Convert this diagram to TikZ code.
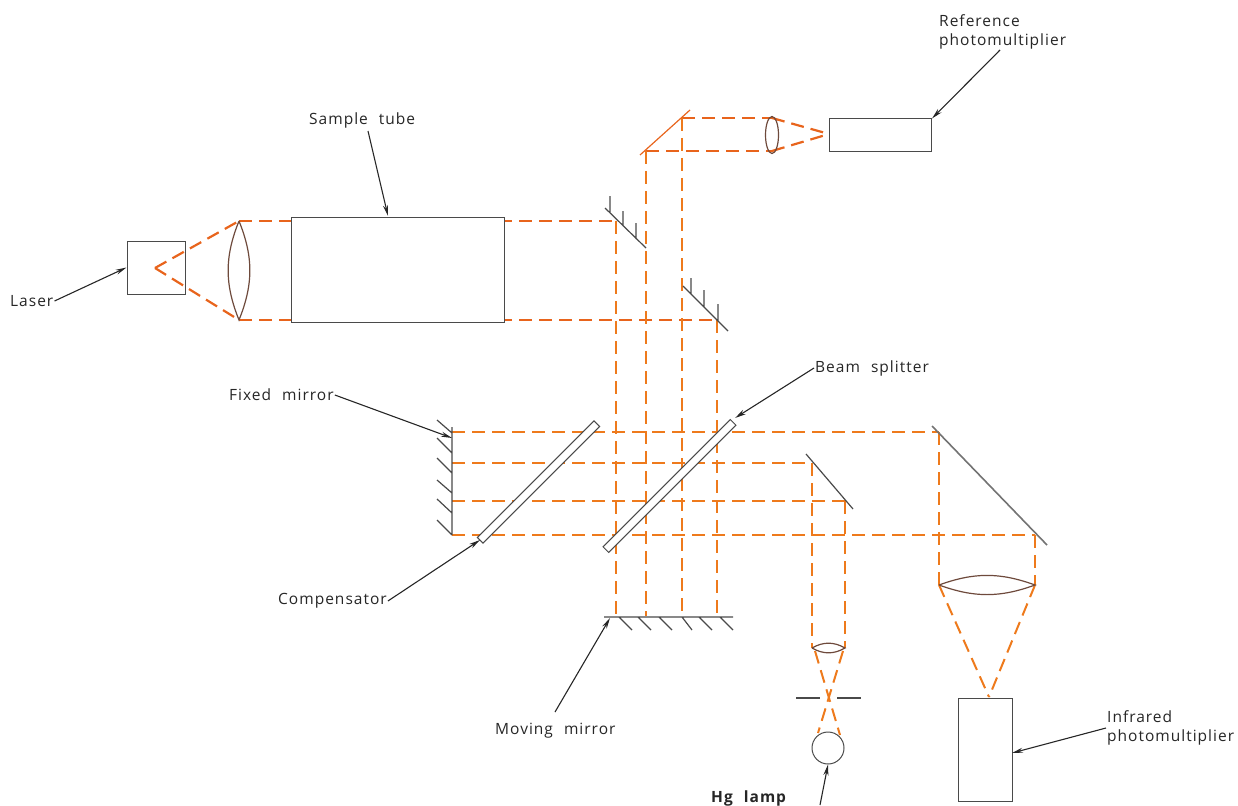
\documentclass[tikz,border=0pt]{standalone}
\usepackage{fontspec}
\setmainfont{Open Sans}[LetterSpace=6.5,WordSpace=2.2]
\usepackage{tikz}
\usetikzlibrary{arrows.meta,positioning,shapes.geometric}
\definecolor{Beam}{HTML}{EE7A1C}
\definecolor{LaserBeam}{HTML}{E8641C}
\definecolor{Ink}{HTML}{4A4A4A}
\definecolor{Glass}{HTML}{6E4A3C}
\tikzset{
  beam/.style={draw=Beam, line width=2pt, dash pattern=on 13pt off 7pt},
  laserbeam/.style={beam, draw=LaserBeam, line width=2.2pt},
  instr/.style={draw=Ink, line width=1pt, fill=white, inner sep=0pt},
  mirror/.style={draw=Ink, line width=1.2pt},
  plate/.style={instr, fill=white, minimum height=8pt, rotate=45},
  lens/.style={draw=Glass, line width=1.2pt},
  callout/.style={font=\fontsize{15.5}{19.5}\selectfont, align=left, inner sep=1pt, text=black!85},
  pointer/.style={-{Stealth[length=11pt,width=5pt]}, draw=black!85, line width=1.1pt}
}
\begin{document}
\begin{tikzpicture}[x=1pt,y=-1pt]
\useasboundingbox (0,0) rectangle (1238,805);
% beam points
\coordinate (focus) at (155,268);
\coordinate (lensT) at (239,221);
\coordinate (lensB) at (239,320);
\coordinate (foldA) at (616,221);
\coordinate (foldB) at (717,320);
\coordinate (topL) at (646,151);
\coordinate (topR) at (682,118);
\coordinate (smallT) at (772,118);
\coordinate (smallB) at (772,151);
\coordinate (refIn) at (829,134);
\coordinate (fixA) at (452,432);
\coordinate (fixB) at (452,463);
\coordinate (fixC) at (452,501);
\coordinate (fixD) at (452,535);
\coordinate (bigA) at (939,432);
\coordinate (bigB) at (1035,535);
\coordinate (smA) at (812,463);
\coordinate (smB) at (845,501);
\coordinate (movA) at (616,616);
\coordinate (movB) at (646,616);
\coordinate (movC) at (682,616);
\coordinate (movD) at (717,616);
\coordinate (irL) at (939,585);
\coordinate (irR) at (1035,585);
\coordinate (irIn) at (989,697);
\coordinate (hgL) at (812,648);
\coordinate (hgR) at (845,648);
\coordinate (hgLo) at (815,651);
\coordinate (hgRo) at (843,651);
\coordinate (lampL) at (818,733);
\coordinate (lampR) at (840,735);
% laser side
\draw[laserbeam] (focus) -- (lensT);
\draw[laserbeam] (focus) -- (lensB);
\draw[laserbeam] (lensT) -- (foldA);
\draw[laserbeam] (lensB) -- (foldB);
\draw[lens] (lensT) to[bend left=22] (lensB) to[bend left=22] (lensT);
\node[instr, fill=none, minimum width=58pt, minimum height=53pt] (laser) at (156,267.5) {};
\node[instr, minimum width=213pt, minimum height=105pt] (tube) at (397.5,269.5) {};
% reference arm
\draw[laserbeam] (topL) -- (smallB);
\draw[laserbeam] (topR) -- (smallT);
\draw[laserbeam] (smallT) -- (refIn);
\draw[laserbeam] (smallB) -- (refIn);
\node[draw=Glass, line width=1.2pt, ellipse, fill=none, minimum width=13pt, minimum height=37pt, inner sep=0pt] (smalllens) at (772,135) {};
\node[instr, minimum width=102pt, minimum height=33pt, anchor=west] (refpm) at (829,135.5) {};
% interferometer beams
\draw[beam] (topL) -- (movB);
\draw[beam] (topR) -- (movC);
\draw[beam] (foldA) -- (movA);
\draw[beam] (foldB) -- (movD);
\draw[beam] (fixA) -- (bigA);
\draw[beam] (fixB) -- (smA);
\draw[beam] (fixC) -- (smB);
\draw[beam] (fixD) -- (bigB);
\draw[beam] (bigA) -- (irL);
\draw[beam] (bigB) -- (irR);
\draw[beam] (irL) -- (irIn);
\draw[beam] (irR) -- (irIn);
\draw[beam] (smA) -- (hgL);
\draw[beam] (smB) -- (hgR);
\draw[beam] (hgLo) -- (lampR);
\draw[beam] (hgRo) -- (lampL);
% mirrors
\draw[draw=LaserBeam, line width=1.2pt] (640,155) -- (690,110);
\draw[mirror] (605,208) -- (646,248) (610,196) -- (610,213) (623,211) -- (623,226) (636,223) -- (636,239);
\draw[mirror] (683,286) -- (728,331) (691,278) -- (691,294) (704,290) -- (704,307) (718,304) -- (718,321);
\draw[mirror] (452,427) -- (452,535) (437,420) -- (452,433) (437,438) -- (452,453) (437,458) -- (452,473) (437,480) -- (452,493) (437,499) -- (452,513) (437,520) -- (452,535);
\draw[mirror] (604,617) -- (733,617) (619,617) -- (632,630) (638,617) -- (651,630) (659,617) -- (672,630) (682,617) -- (692,630) (699,617) -- (712,630) (720,617) -- (733,630);
\draw[mirror] (806,454) -- (853,509);
\draw[draw=black!55, line width=1.6pt] (932,426) -- (1047,545);
\draw[mirror] (796,698) -- (820,698) (837,698) -- (861,698);
% plates and lenses
\node[plate, minimum width=165pt] (compplate) at (538.5,482) {};
\node[plate, minimum width=180pt] (splitter) at (669.5,486) {};
\draw[lens] (irL) to[bend left=20] (irR) to[bend left=20] (irL);
\draw[lens] (hgL) to[bend left=30] (hgR) to[bend left=30] (hgL);
\node[instr, circle, minimum size=32pt] (lamp) at (828,748) {};
\node[instr, minimum width=54pt, minimum height=103pt] (irpm) at (985,749.5) {};
% labels
\node[callout, anchor=west] (reflabel) at (938,32) {Reference\\photomultiplier};
\node[callout, anchor=west] (tubelabel) at (308,120) {Sample tube};
\node[callout, anchor=west] (laserlabel) at (9,301) {Laser};
\node[callout, anchor=west] (fixedlabel) at (228,395) {Fixed mirror};
\node[callout, anchor=west] (splitlabel) at (814,368) {Beam splitter};
\node[callout, anchor=west] (complabel) at (277,601) {Compensator};
\node[callout, anchor=west] (movlabel) at (494,731) {Moving mirror};
\node[callout, anchor=west] (irlabel) at (1106,728) {Infrared\\photomultiplier};
\node[callout, anchor=west, font=\fontsize{15.5}{19}\selectfont\bfseries] (hglabel) at (710,798) {Hg lamp};
% pointers
\coordinate (refFrom) at (1000,50);
\coordinate (tubeFrom) at (368,131);
\coordinate (tubeTo) at (388,216);
\coordinate (fixedTo) at (452,438);
\coordinate (splitTo) at (735,418);
\coordinate (compTo) at (480,540);
\coordinate (movFrom) at (555,712);
\coordinate (movTo) at (610,618);
\coordinate (hgFrom) at (820,805);
\coordinate (irTo) at (1012,753);
\draw[pointer] (refFrom) -- (refpm.north east);
\draw[pointer] (tubeFrom) -- (tubeTo);
\draw[pointer] (laserlabel.east) -- (laser.west);
\draw[pointer] (fixedlabel.east) -- (fixedTo);
\draw[pointer] (splitlabel.west) -- (splitTo);
\draw[pointer] (complabel.east) -- (compTo);
\draw[pointer] (movFrom) -- (movTo);
\draw[pointer] (hgFrom) -- (lamp.south);
\draw[pointer] (irlabel.west) -- (irTo);
\end{tikzpicture}
\end{document}
